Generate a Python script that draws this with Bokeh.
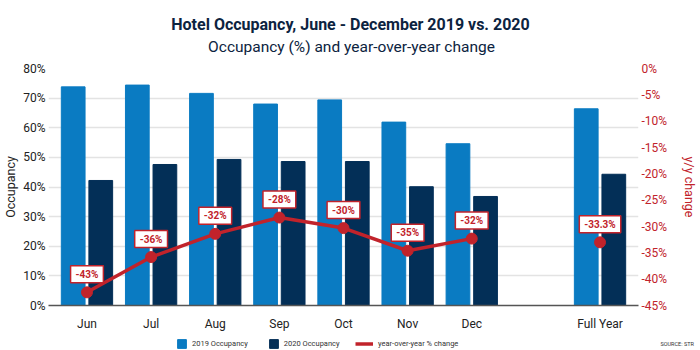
from bokeh.plotting import figure
from bokeh.layouts import column
from bokeh.models import (Range1d, LinearAxis, FixedTicker, PrintfTickFormatter,
                          ColumnDataSource, Legend, LegendItem, Label)
from bokeh.core.properties import value
from bokeh.transform import dodge
from bokeh.embed import file_html
from bokeh.resources import INLINE

# ---- data ----
categories = ["Jun", "Jul", "Aug", "Sep", "Oct", "Nov", "Dec", "Full Year"]
positions = [0, 1, 2, 3, 4, 5, 6, 8]
occ_2019 = [73.8, 74.4, 71.6, 68.0, 69.4, 61.9, 54.6, 66.4]
occ_2020 = [42.2, 47.6, 49.3, 48.6, 48.6, 40.1, 36.8, 44.3]
yoy_change = [-42.5, -35.8, -31.4, -28.3, -30.3, -34.6, -32.3, -33.0]
yoy_labels = ["-43%", "-36%", "-32%", "-28%", "-30%", "-35%", "-32%", "-33.3%"]
left_ticks = [0, 10, 20, 30, 40, 50, 60, 70, 80]
right_ticks = [0, -5, -10, -15, -20, -25, -30, -35, -40, -45]
title_text = "Hotel Occupancy, June - December 2019 vs. 2020"
subtitle_text = "Occupancy (%) and year-over-year change"
source_text = "SOURCE: STR"

BLUE = "#0a7bc2"
NAVY = "#032f57"
RED = "#c1232b"
TITLE_C = "#0c2340"
FONT = "Roboto"

# ---- title strip ----
pt = figure(width=700, height=56, x_range=Range1d(0, 700), y_range=Range1d(56, 0),
            output_backend="svg", toolbar_location=None,
            min_border_left=0, min_border_right=0, min_border_top=0, min_border_bottom=0)
pt.frame_align = False
pt.axis.visible = False
pt.grid.visible = False
pt.outline_line_color = None
pt.add_layout(Label(x=350, y=24, text=title_text, text_align="center", text_baseline="middle",
                    text_font=FONT, text_font_size="16px", text_font_style="bold",
                    text_color=TITLE_C))
pt.add_layout(Label(x=351, y=46.5, text=subtitle_text, text_align="center", text_baseline="middle",
                    text_font=FONT, text_font_size="15.5px", text_color=TITLE_C))

# ---- main chart ----
src = ColumnDataSource(dict(x=positions, cat=categories, o19=occ_2019, o20=occ_2020,
                            yoy=yoy_change, lab=yoy_labels))
line_src = ColumnDataSource(dict(x=positions[:7], yoy=yoy_change[:7]))

p = figure(width=700, height=277, x_range=Range1d(-0.6, 8.6), y_range=Range1d(0, 80),
           output_backend="svg", toolbar_location=None,
           min_border_left=43, min_border_right=60, min_border_top=12, min_border_bottom=23)
p.frame_align = False
p.extra_y_ranges = {"yoy": Range1d(-45, 0)}
p.outline_line_color = None

p.vbar(x=dodge("x", -0.215, range=p.x_range), top="o19", width=0.37, source=src,
       fill_color=BLUE, line_color=BLUE)
p.vbar(x=dodge("x", 0.215, range=p.x_range), top="o20", width=0.37, source=src,
       fill_color=NAVY, line_color=NAVY)

p.line(x="x", y="yoy", source=line_src, y_range_name="yoy", line_color=RED, line_width=3.5)
p.scatter(x="x", y="yoy", source=src, y_range_name="yoy", size=11, fill_color=RED, line_color=RED)
p.text(x="x", y="yoy", text="lab", source=src, y_range_name="yoy", y_offset=-18,
       text_align="center", text_baseline="middle", text_font=value(FONT),
       text_font_size="10px", text_font_style="bold", text_color=RED,
       background_fill_color="white", border_line_color=RED, border_line_width=1.5,
       padding=(5, 3))

p.xaxis.ticker = FixedTicker(ticks=positions)
p.xaxis.major_label_overrides = {pos: cat for pos, cat in zip(positions, categories)}
p.xaxis.axis_line_color = "#555555"
p.xaxis.axis_line_width = 1.5
p.xaxis.major_tick_line_color = None
p.xaxis.minor_tick_line_color = None
p.xaxis.major_tick_out = 0
p.xaxis.major_tick_in = 0
p.xaxis.minor_tick_out = 0
p.xaxis.major_label_text_font = FONT
p.xaxis.major_label_text_font_size = "12px"
p.xaxis.major_label_text_color = "#222222"
p.xaxis.major_label_standoff = 11

p.yaxis.ticker = FixedTicker(ticks=left_ticks)
p.yaxis.formatter = PrintfTickFormatter(format="%d%%")
p.yaxis.axis_line_color = None
p.yaxis.major_tick_line_color = None
p.yaxis.minor_tick_line_color = None
p.yaxis.major_tick_out = 0
p.yaxis.major_tick_in = 0
p.yaxis.minor_tick_out = 0
p.yaxis.major_label_text_font = FONT
p.yaxis.major_label_text_font_size = "12px"
p.yaxis.major_label_text_color = "#222222"
p.yaxis.major_label_standoff = 3
p.yaxis.axis_label = "Occupancy"
p.yaxis.axis_label_text_font = FONT
p.yaxis.axis_label_text_font_style = "normal"
p.yaxis.axis_label_text_font_size = "12.5px"
p.yaxis.axis_label_text_color = "#222222"
p.yaxis.axis_label_standoff = 2

ra = LinearAxis(y_range_name="yoy", ticker=FixedTicker(ticks=right_ticks),
                formatter=PrintfTickFormatter(format="%d%%"))
ra.axis_line_color = None
ra.major_tick_line_color = None
ra.minor_tick_line_color = None
ra.major_tick_out = 0
ra.major_tick_in = 0
ra.minor_tick_out = 0
ra.major_label_text_font = FONT
ra.major_label_text_font_size = "12px"
ra.major_label_text_color = RED
ra.major_label_standoff = 3
ra.axis_label = "y/y change"
ra.axis_label_text_font = FONT
ra.axis_label_text_font_style = "normal"
ra.axis_label_text_font_size = "12.5px"
ra.axis_label_text_color = RED
ra.axis_label_standoff = 12
p.add_layout(ra, "right")

p.xgrid.visible = False
p.ygrid.grid_line_color = "#e3e3e3"
p.ygrid.grid_line_width = 1.5

# ---- legend strip (hidden renderers provide the legend swatches) ----
pl = figure(width=700, height=17, x_range=Range1d(0, 700), y_range=Range1d(0, 17),
            output_backend="svg", toolbar_location=None,
            min_border_left=0, min_border_right=0, min_border_top=0, min_border_bottom=0)
pl.frame_align = False
pl.axis.visible = False
pl.grid.visible = False
pl.outline_line_color = None
d19 = pl.vbar(x="x", top="o19", source=src, width=1, fill_color=BLUE, line_color=BLUE,
              visible=False)
d20 = pl.vbar(x="x", top="o20", source=src, width=1, fill_color=NAVY, line_color=NAVY,
              visible=False)
dln = pl.line(x="x", y="yoy", source=line_src, line_color=RED, line_width=3.5, visible=False)

common = dict(orientation="horizontal", label_text_font=FONT, label_text_font_size="7.5px",
              label_text_color="#333333", padding=0, margin=0, border_line_color=None,
              background_fill_alpha=0, label_standoff=5, label_height=11, glyph_height=11,
              inactive_fill_alpha=0)
leg1 = Legend(items=[LegendItem(label="2019 Occupancy", renderers=[d19]),
                     LegendItem(label="2020 Occupancy", renderers=[d20])],
              location=(176, 1.5), glyph_width=11, spacing=20, **common)
leg2 = Legend(items=[LegendItem(label="year-over-year % change", renderers=[dln])],
              location=(355, 1.5), glyph_width=18, **common)
pl.add_layout(leg1)
pl.add_layout(leg2)
pl.add_layout(Label(x=660, y=7, text=source_text, text_align="left", text_baseline="middle",
                    text_font=FONT, text_font_size="5.5px", text_color="#333333"))

layout = column(pt, p, pl, spacing=0)
open("out.html", "w").write(file_html(layout, INLINE))
